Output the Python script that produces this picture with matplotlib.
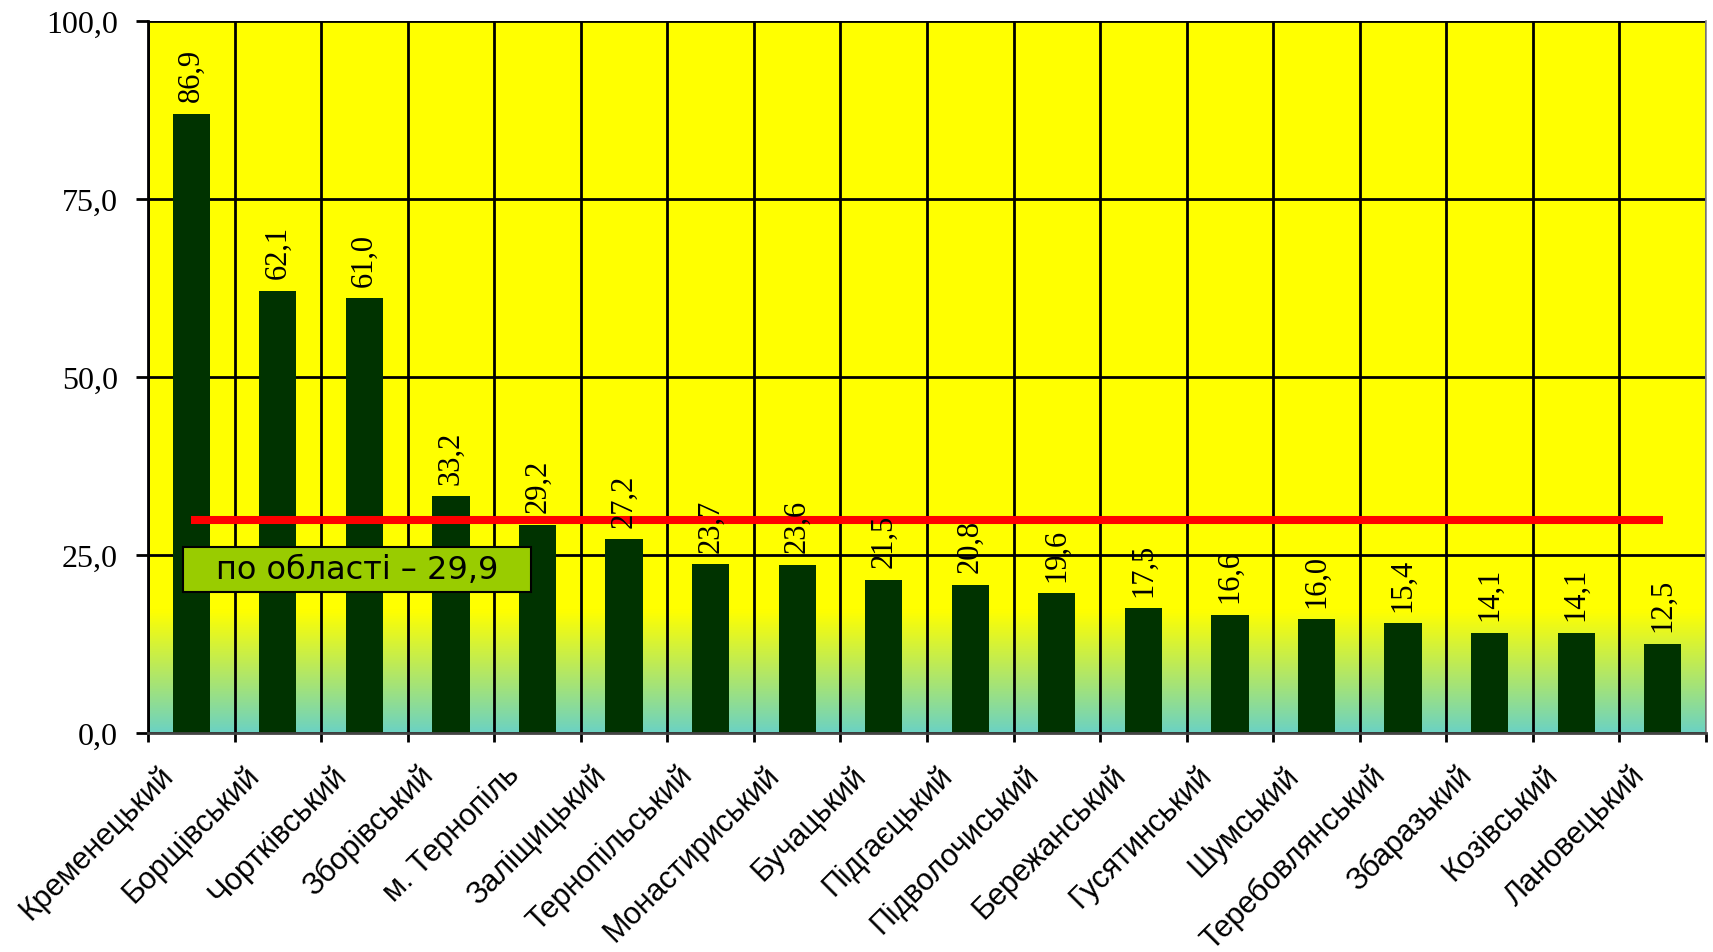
import numpy as np
import matplotlib
matplotlib.use("Agg")
import matplotlib.pyplot as plt
from matplotlib.colors import LinearSegmentedColormap
from matplotlib.patches import Rectangle
from matplotlib.transforms import ScaledTranslation

# дані по районах
districts = ["Кременецький", "Борщівський", "Чортківський", "Зборівський",
             "м. Тернопіль", "Заліщицький", "Тернопільський", "Монастириський",
             "Бучацький", "Підгаєцький", "Підволочиський", "Бережанський",
             "Гусятинський", "Шумський", "Теребовлянський", "Збаразький",
             "Козівський", "Лановецький"]
values = [86.9, 62.1, 61.0, 33.2, 29.2, 27.2, 23.7, 23.6, 21.5, 20.8,
          19.6, 17.5, 16.6, 16.0, 15.4, 14.1, 14.1, 12.5]
region_avg = 29.9
y_ticks = [0, 25, 50, 75, 100]

fig = plt.figure(figsize=(17.13, 9.53), dpi=100)
ax = fig.add_axes([0.0864, 0.2298, 0.9095, 0.7475])

x = np.arange(len(districts))
ax.set_xlim(-0.5, len(districts) - 0.5)
ax.set_ylim(0, 100)

# фон: жовтий з переходом у бірюзовий внизу
cmap = LinearSegmentedColormap.from_list("bg", [(0.0, "#6CD2C2"), (0.17, "#FFFF00"), (1.0, "#FFFF00")])
grad = np.linspace(0, 1, 256).reshape(-1, 1)
ax.imshow(grad, cmap=cmap, aspect="auto", origin="lower", extent=[0, 1, 0, 1],
          transform=ax.transAxes, zorder=0)

ax.bar(x, values, width=0.43, color="#003300", zorder=3)

for xi, v in zip(x, values):
    ax.annotate(f"{v:.1f}".replace(".", ","), (xi, v), xytext=(0, 9), textcoords="offset points",
                rotation=90, ha="center", va="bottom", fontsize=22, family="Liberation Serif", zorder=5)

ax.plot([x[0], x[-1]], [region_avg, region_avg], color="#FF0000", lw=5.8, zorder=4, solid_capstyle="butt")

# підпис середнього по області
ax.add_patch(Rectangle((-0.1, 19.8), 4.03, 6.3, facecolor="#99CC00", edgecolor="black", lw=1.5, zorder=6))
ax.text(1.915, 22.95, f"по області – {region_avg:.1f}".replace(".", ","), ha="center", va="center",
        fontsize=23, family="DejaVu Sans", zorder=7)

# осі
ax.set_yticks(y_ticks)
ax.set_yticklabels([f"{t:.1f}".replace(".", ",") for t in y_ticks], fontsize=23, family="Liberation Serif")
ax.tick_params(axis="y", direction="out", length=8.6, width=2, pad=13)
ax.yaxis.grid(True, color="black", lw=2, zorder=1)

ax.set_xticks(x)
ax.set_xticklabels(districts, rotation=45, ha="right", va="top", rotation_mode="anchor",
                   fontsize=22, family="Liberation Sans")
ax.tick_params(axis="x", which="major", length=0, pad=19)
ax.set_xticks(np.arange(-0.5, len(districts)), minor=True)
ax.tick_params(axis="x", which="minor", direction="out", length=6.5, width=2)
ax.xaxis.grid(True, which="minor", color="black", lw=2, zorder=1)
ax.set_axisbelow(False)

offset = ScaledTranslation(-24 / 72, 0, fig.dpi_scale_trans)
for lbl in ax.get_xticklabels():
    lbl.set_transform(lbl.get_transform() + offset)

ax.spines["top"].set_visible(False)
ax.spines["right"].set_color("#888888")
ax.spines["right"].set_linewidth(1.2)
ax.spines["left"].set_linewidth(2)
ax.spines["bottom"].set_color("#444444")
ax.spines["bottom"].set_linewidth(2)
for s in ax.spines.values():
    s.set_zorder(8)

fig.savefig("out.png", dpi=100)
